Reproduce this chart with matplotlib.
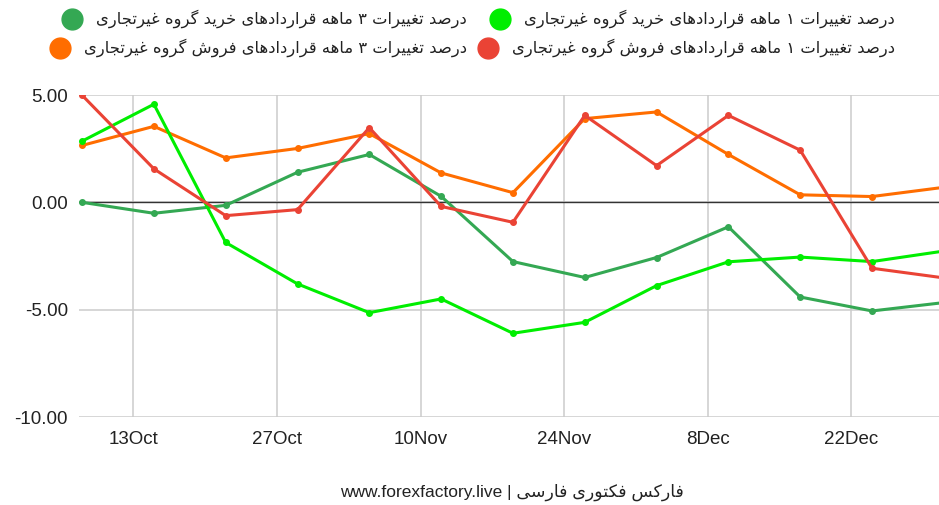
import datetime as dt
import matplotlib
matplotlib.use("Agg")
import matplotlib.pyplot as plt
import matplotlib.dates as mdates
from matplotlib.lines import Line2D

# weekly COT report dates
dates = [dt.date(2024, 10, 8) + dt.timedelta(days=7 * i) for i in range(13)]

buy_1m = [2.85, 4.57, -1.87, -3.80, -5.14, -4.50, -6.10, -5.59, -3.88, -2.77, -2.55, -2.76, -2.27]
buy_3m = [0.00, -0.51, -0.14, 1.40, 2.23, 0.28, -2.76, -3.50, -2.57, -1.14, -4.41, -5.06, -4.67]
sell_1m = [4.99, 1.56, -0.62, -0.34, 3.48, -0.19, -0.93, 4.05, 1.71, 4.05, 2.43, -3.07, -3.52]
sell_3m = [2.65, 3.54, 2.07, 2.51, 3.20, 1.37, 0.45, 3.90, 4.21, 2.23, 0.35, 0.27, 0.70]

label_buy_1m = "درصد تغییرات ۱ ماهه قراردادهای خرید گروه غیرتجاری"
label_sell_1m = "درصد تغییرات ۱ ماهه قراردادهای فروش گروه غیرتجاری"
label_buy_3m = "درصد تغییرات ۳ ماهه قراردادهای خرید گروه غیرتجاری"
label_sell_3m = "درصد تغییرات ۳ ماهه قراردادهای فروش گروه غیرتجاری"
footer_fa = "فارکس فکتوری فارسی"
footer_en = "www.forexfactory.live"

tick_dates = [dt.date(2024, 10, 13) + dt.timedelta(days=14 * i) for i in range(6)]
tick_labels = ["13Oct", "27Oct", "10Nov", "24Nov", "8Dec", "22Dec"]
y_ticks = [5, 0, -5, -10]

# minimal persian shaping (isolated, final, initial, medial)
FORMS = {
    "ا": (0xFE8D, 0xFE8E, None, None),
    "ب": (0xFE8F, 0xFE90, 0xFE91, 0xFE92),
    "ت": (0xFE95, 0xFE96, 0xFE97, 0xFE98),
    "ج": (0xFE9D, 0xFE9E, 0xFE9F, 0xFEA0),
    "خ": (0xFEA5, 0xFEA6, 0xFEA7, 0xFEA8),
    "د": (0xFEA9, 0xFEAA, None, None),
    "ر": (0xFEAD, 0xFEAE, None, None),
    "ز": (0xFEAF, 0xFEB0, None, None),
    "س": (0xFEB1, 0xFEB2, 0xFEB3, 0xFEB4),
    "ش": (0xFEB5, 0xFEB6, 0xFEB7, 0xFEB8),
    "ص": (0xFEB9, 0xFEBA, 0xFEBB, 0xFEBC),
    "غ": (0xFECD, 0xFECE, 0xFECF, 0xFED0),
    "ف": (0xFED1, 0xFED2, 0xFED3, 0xFED4),
    "ق": (0xFED5, 0xFED6, 0xFED7, 0xFED8),
    "ک": (0xFB8E, 0xFB8F, 0xFB90, 0xFB91),
    "گ": (0xFB92, 0xFB93, 0xFB94, 0xFB95),
    "ل": (0xFEDD, 0xFEDE, 0xFEDF, 0xFEE0),
    "م": (0xFEE1, 0xFEE2, 0xFEE3, 0xFEE4),
    "ن": (0xFEE5, 0xFEE6, 0xFEE7, 0xFEE8),
    "ه": (0xFEE9, 0xFEEA, 0xFEEB, 0xFEEC),
    "و": (0xFEED, 0xFEEE, None, None),
    "ی": (0xFBFC, 0xFBFD, 0xFBFE, 0xFBFF),
}


def shape(s):
    out = []
    for i, c in enumerate(s):
        if c not in FORMS:
            out.append(c)
            continue
        prev = s[i - 1] if i > 0 else ""
        nxt = s[i + 1] if i < len(s) - 1 else ""
        join_prev = prev in FORMS and FORMS[prev][2] is not None
        join_next = FORMS[c][2] is not None and nxt in FORMS
        f = FORMS[c]
        if join_prev and join_next:
            out.append(chr(f[3]))
        elif join_prev:
            out.append(chr(f[1]))
        elif join_next:
            out.append(chr(f[2]))
        else:
            out.append(chr(f[0]))
    return "".join(out)[::-1]


plt.rcParams["font.family"] = ["Liberation Sans", "DejaVu Sans"]

fig = plt.figure(figsize=(9.39, 5.05), dpi=100)
ax = fig.add_axes([79 / 939, 1 - 417 / 505, 860 / 939, 322 / 505])

c_buy_1m = "#00ee00"
c_buy_3m = "#34a853"
c_sell_1m = "#ea4335"
c_sell_3m = "#ff6d00"

for vals, col in [(buy_3m, c_buy_3m), (sell_3m, c_sell_3m), (buy_1m, c_buy_1m), (sell_1m, c_sell_1m)]:
    ax.plot(dates, vals, color=col, lw=2.2, marker="o", ms=4, zorder=3, clip_on=True)

ax.set_ylim(-10, 5)
ax.set_xlim(mdates.date2num(dates[0]) - 0.3, mdates.date2num(dates[-1]) - 0.47)
ax.set_yticks(y_ticks)
ax.set_yticklabels(["%.2f" % v for v in y_ticks])
ax.set_xticks(tick_dates)
ax.set_xticklabels(tick_labels)
ax.tick_params(length=0, labelsize=13.5, colors="#222222")
ax.tick_params(axis="y", pad=8)
ax.tick_params(axis="x", pad=10)
ax.grid(True, color="#cccccc", lw=1.1)
ax.axhline(0, color="#333333", lw=1, zorder=2)
for s in ax.spines.values():
    s.set_visible(False)

# legend, right to left
leg_items = [
    (label_buy_1m, c_buy_1m, 895 / 939, 1 - 19 / 505),
    (label_sell_1m, c_sell_1m, 895 / 939, 1 - 48 / 505),
    (label_buy_3m, c_buy_3m, 467 / 939, 1 - 19 / 505),
    (label_sell_3m, c_sell_3m, 467 / 939, 1 - 48 / 505),
]
texts = []
for lab, col, x, y in leg_items:
    t = fig.text(x, y, shape(lab), ha="right", va="center", fontsize=11.8,
                 family=["DejaVu Sans"], color="#222222")
    texts.append((t, col, y))

fig.canvas.draw()
r = fig.canvas.get_renderer()
for t, col, y in texts:
    bb = t.get_window_extent(r)
    fig.add_artist(Line2D([(bb.x0 - 24) / 939], [y], marker="o", ms=15, color=col,
                          transform=fig.transFigure, ls=""))

fig.text(512 / 939, 1 - 492 / 505, footer_en + " | " + shape(footer_fa), ha="center",
         va="center", fontsize=12.5, color="#222222")

fig.savefig("out.png", dpi=100)
